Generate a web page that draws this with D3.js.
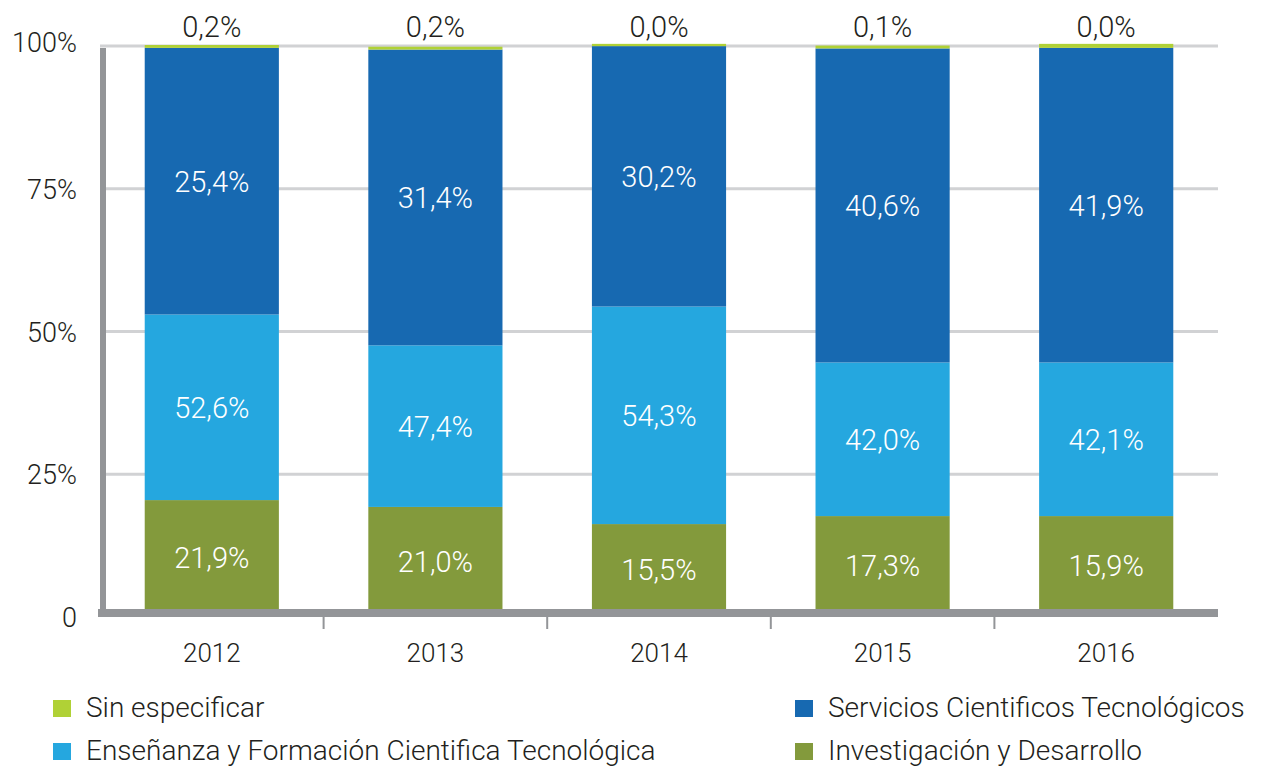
<!DOCTYPE html>
<html>
<head>
<meta charset="utf-8">
<script src="https://cdn.jsdelivr.net/npm/d3@7"></script>
<style>
  body { margin: 0; background: #fff; }
  text { font-family: Roboto, "Noto Sans", sans-serif; fill: #231f20; font-weight: 300; }
</style>
</head>
<body>
<script>
const WIDTH = 1264;
const HEIGHT = 768;

// data
const years = ["2012", "2013", "2014", "2015", "2016"];
const seriesNames = [
  "Investigación y Desarrollo",
  "Enseñanza y Formación Cientifica Tecnológica",
  "Servicios Cientificos Tecnológicos",
  "Sin especificar"
];
const seriesColors = ["#839a3c", "#25a7df", "#1769b1", "#b0d136"];

// segment heights (share of the bar, %)
const invHeights = [20.3, 19.1, 16.1, 17.5, 17.5];
const ensHeights = [32.5, 28.3, 38.1, 26.9, 26.9];
const serHeights = [46.7, 51.8, 45.6, 55.0, 55.1];
const sinHeights = [0.5, 0.5, 0.4, 0.5, 0.7];

// printed labels
const invLabels = ["21,9%", "21,0%", "15,5%", "17,3%", "15,9%"];
const ensLabels = ["52,6%", "47,4%", "54,3%", "42,0%", "42,1%"];
const serLabels = ["25,4%", "31,4%", "30,2%", "40,6%", "41,9%"];
const sinLabels = ["0,2%", "0,2%", "0,0%", "0,1%", "0,0%"];

const yTicks = [0, 25, 50, 75, 100];
const yTickLabels = ["0", "25%", "50%", "75%", "100%"];

// legend layout: [series index, column, row]
const legendOrder = [[3, 0, 0], [1, 0, 1], [2, 1, 0], [0, 1, 1]];

const PLOT_LEFT = 100;
const PLOT_RIGHT = 1218;
const PLOT_TOP = 45;
const PLOT_BOTTOM = 616;

const svg = d3.select("body").append("svg")
  .attr("width", WIDTH)
  .attr("height", HEIGHT);

const x = d3.scaleBand()
  .domain(years)
  .range([PLOT_LEFT, PLOT_RIGHT])
  .paddingInner(0.4)
  .paddingOuter(0.2);

const y = d3.scaleLinear()
  .domain([0, 100])
  .range([PLOT_BOTTOM, PLOT_TOP]);

// gridlines
svg.append("g")
  .selectAll("line")
  .data(yTicks.filter(d => d > 0))
  .enter().append("line")
  .attr("x1", PLOT_LEFT)
  .attr("x2", PLOT_RIGHT)
  .attr("y1", d => y(d) + 1)
  .attr("y2", d => y(d) + 1)
  .style("stroke", "#d1d2d4")
  .style("stroke-width", 3);

// stack the segments
const rows = years.map((yr, i) => ({
  year: yr,
  s0: invHeights[i], s1: ensHeights[i], s2: serHeights[i], s3: sinHeights[i]
}));
const labelSets = [invLabels, ensLabels, serLabels, sinLabels];
const stacked = d3.stack().keys(["s0", "s1", "s2", "s3"])(rows);

const layers = svg.append("g")
  .selectAll("g")
  .data(stacked)
  .enter().append("g")
  .style("fill", (_, i) => seriesColors[i]);

layers.selectAll("rect")
  .data(d => d)
  .enter().append("rect")
  .attr("x", d => x(d.data.year))
  .attr("width", x.bandwidth())
  .attr("y", d => y(d[1]))
  .attr("height", d => y(d[0]) - y(d[1]));

// labels inside the bars
stacked.slice(0, 3).forEach((layer, k) => {
  svg.append("g")
    .selectAll("text")
    .data(layer)
    .enter().append("text")
    .attr("x", d => x(d.data.year) + x.bandwidth() / 2)
    .attr("y", d => (y(d[0]) + y(d[1])) / 2)
    .attr("dy", "0.36em")
    .attr("text-anchor", "middle")
    .style("font-size", "29px")
    .style("fill", "#fff")
    .text((_, i) => labelSets[k][i]);
});

// "Sin especificar" labels above the bars
svg.append("g")
  .selectAll("text")
  .data(stacked[3])
  .enter().append("text")
  .attr("x", d => x(d.data.year) + x.bandwidth() / 2)
  .attr("y", 37)
  .attr("text-anchor", "middle")
  .style("font-size", "29px")
  .text((_, i) => sinLabels[i]);

// axes
svg.append("line")
  .attr("x1", PLOT_LEFT + 3)
  .attr("x2", PLOT_LEFT + 3)
  .attr("y1", y(100) + 3)
  .attr("y2", PLOT_BOTTOM + 1)
  .style("stroke", "#939598")
  .style("stroke-width", 6);

svg.append("line")
  .attr("x1", PLOT_LEFT - 2)
  .attr("x2", PLOT_RIGHT)
  .attr("y1", PLOT_BOTTOM - 3)
  .attr("y2", PLOT_BOTTOM - 3)
  .style("stroke", "#939598")
  .style("stroke-width", 8);

// tick marks between the categories
const step = x.step();
svg.append("g")
  .selectAll("line")
  .data(years.slice(1))
  .enter().append("line")
  .attr("x1", d => x(d) - step * x.paddingInner() / 2)
  .attr("x2", d => x(d) - step * x.paddingInner() / 2)
  .attr("y1", PLOT_BOTTOM)
  .attr("y2", PLOT_BOTTOM + 13)
  .style("stroke", "#939598")
  .style("stroke-width", 2);

// category labels
svg.append("g")
  .selectAll("text")
  .data(years)
  .enter().append("text")
  .attr("x", d => x(d) + x.bandwidth() / 2)
  .attr("y", 662)
  .attr("text-anchor", "middle")
  .style("font-size", "26px")
  .text(d => d);

// y labels (top one sits a bit higher)
svg.append("g")
  .selectAll("text")
  .data(yTicks)
  .enter().append("text")
  .attr("x", 77)
  .attr("y", d => d === 100 ? y(d) + 7 : y(d) + 11)
  .attr("text-anchor", "end")
  .style("font-size", "27px")
  .text((_, i) => yTickLabels[i]);

// legend
const LEGEND_X = [53, 795];
const LEGEND_Y = [700, 743];
const legend = svg.append("g")
  .selectAll("g")
  .data(legendOrder)
  .enter().append("g")
  .attr("transform", d => `translate(${LEGEND_X[d[1]]},${LEGEND_Y[d[2]]})`);
legend.append("rect")
  .attr("width", 18)
  .attr("height", 17)
  .style("fill", d => seriesColors[d[0]]);
legend.append("text")
  .attr("x", 33)
  .attr("y", 17)
  .style("font-size", "28px")
  .text(d => seriesNames[d[0]]);
</script>
</body>
</html>
